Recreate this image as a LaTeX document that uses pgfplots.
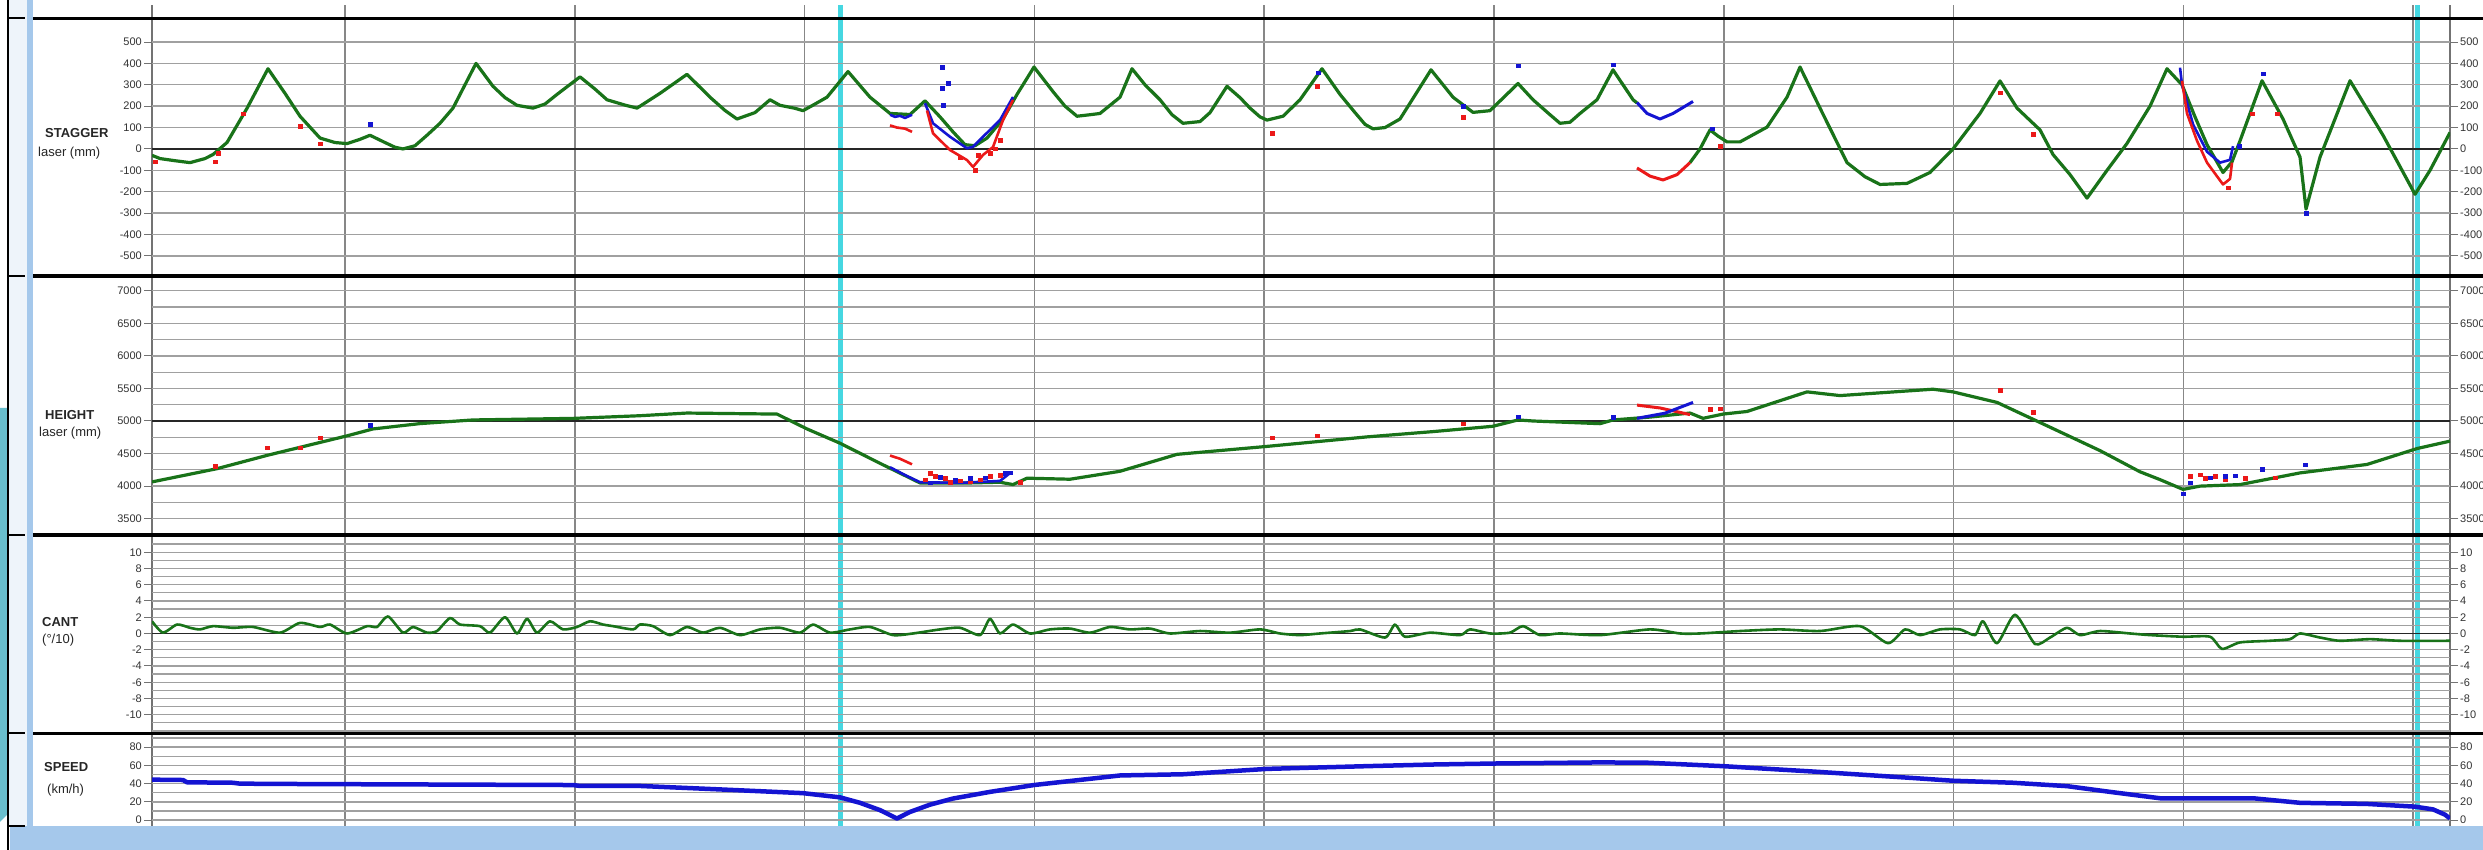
\documentclass[border=0pt]{standalone}
\usepackage{pgfplots}
\pgfplotsset{compat=1.18}
\usepackage{fontspec}
\setmainfont{Liberation Sans}
\definecolor{tgreen}{RGB}{25,115,25}
\definecolor{tblue}{RGB}{20,20,210}
\definecolor{tred}{RGB}{235,25,25}
\definecolor{tcyan}{RGB}{70,215,225}
\definecolor{gridg}{RGB}{160,160,160}
\definecolor{vgrid}{RGB}{135,135,135}
\definecolor{lblue}{RGB}{165,200,235}
\definecolor{teal1}{RGB}{105,190,205}
\definecolor{paleblue}{RGB}{238,244,250}

\pgfplotsset{
  panel/.style={
    scale only axis, width=2298pt, xmin=152, xmax=2450,
    axis line style={draw=none}, xtick=\empty,
    tick align=outside, major tick length=8pt, minor tick length=0pt,
    ytick style={draw=black!55, line width=1pt},
    yticklabel style={font=\fontsize{11}{12}\selectfont, text=black!80, inner sep=2pt},
    grid style={draw=gridg, line width=1.4pt},
    minor grid style={draw=gridg, line width=1.2pt},
    anchor=south west,
  },
  leftp/.style={panel, ytick pos=left, ymajorgrids, yminorgrids,
    extra y tick labels={}, extra y tick style={grid style={draw=black!85, line width=1.5pt}, major tick length=0pt}},
  rightp/.style={panel, ytick pos=right, yticklabel pos=right},
  gline/.style={draw=tgreen, line width=3.2pt, line join=round, mark=none},
  bline/.style={draw=tblue, line width=3pt, line join=round, mark=none},
  rline/.style={draw=tred, line width=3pt, line join=round, mark=none},
  rdot/.style={only marks, mark=square*, mark size=1.7pt, mark options={fill=tred, draw=tred}},
  bdot/.style={only marks, mark=square*, mark size=1.7pt, mark options={fill=tblue, draw=tblue}},
}

\begin{document}
\begin{tikzpicture}[x=1pt,y=1pt]
\useasboundingbox (0,0) rectangle (2483,850);
\clip (0,0) rectangle (2483,850);
\fill[white] (0,0) rectangle (2483,850);
% left decorations
\fill[paleblue] (8,24) rectangle (27,850);
\fill[lblue] (27,24) rectangle (33,850);
\fill[teal1] (0,442) -- (8,442) -- (8,36) -- (0,28) -- cycle;
\fill[lblue] (10,0) rectangle (2483,24);
\draw[black, line width=2pt] (8,0) -- (8,850);
\foreach \yy in {832,574,315,117,24} \draw[black, line width=2pt] (8,\yy) -- (25,\yy);
% vertical grid
\foreach \k in {0,...,9} \draw[vgrid, line width=1.5pt] ({345+229.8*\k},24) -- ({345+229.8*\k},845);
\draw[black!55, line width=2.5pt] (152,24) -- (152,845);
\draw[black!55, line width=2.5pt] (2450,24) -- (2450,845);
\draw[tcyan, line width=5pt] (840,24) -- (840,845);
\draw[tcyan, line width=5pt] (2417,24) -- (2417,845);

% ================= STAGGER =================
\begin{axis}[leftp, at={(152pt,574pt)}, height=257.5pt, ymin=-594, ymax=610,
  ytick={-500,-400,-300,-200,-100,0,100,200,300,400,500},
  yticklabels={-500,-400,-300,-200,-100,0,100,200,300,400,500},
  extra y ticks={0}]
\addplot[gline] coordinates {
(152,-30)(160,-45)(175,-55)(190,-64)(205,-45)(213,-26)(227,30)(247,190)(268,375)(285,260)(300,153)(320,51)(335,30)(347,25)(360,45)(370,64)(385,30)(395,8)(403,0)(415,15)(427,64)(440,120)(453,191)(476,400)(493,293)(505,240)(517,204)(533,191)(545,210)(557,255)(580,337)(595,280)(607,230)(625,205)(637,191)(660,260)(687,349)(710,242)(725,180)(737,140)(755,170)(770,230)(780,204)(795,190)(803,179)(815,210)(827,242)(848,362)(870,242)(890,166)(910,161)(925,225)(930,200)(940,150)(953,80)(965,20)(975,15)(987,51)(1003,140)(1017,255)(1034,383)(1053,268)(1065,200)(1077,153)(1090,160)(1100,166)(1120,242)(1132,375)(1145,300)(1160,230)(1172,160)(1183,120)(1200,128)(1210,170)(1227,293)(1240,240)(1250,191)(1260,150)(1267,135)(1283,153)(1300,230)(1322,375)(1340,255)(1355,170)(1365,115)(1373,94)(1385,100)(1400,140)(1431,370)(1453,242)(1473,171)(1490,179)(1518,306)(1533,230)(1550,160)(1560,120)(1570,125)(1580,166)(1597,230)(1613,370)(1633,230)(1637,215)};
\addplot[gline] coordinates {
(1690,-64)(1700,0)(1710,89)(1718,60)(1727,33)(1740,33)(1767,102)(1787,242)(1800,383)(1820,191)(1847,-64)(1865,-130)(1880,-166)(1907,-161)(1930,-110)(1953,0)(1980,166)(2000,318)(2017,191)(2040,89)(2053,-26)(2070,-120)(2087,-230)(2107,-100)(2127,26)(2150,200)(2167,375)(2182,300)(2195,150)(2207,20)(2223,-110)(2232,-60)(2240,38)(2262,319)(2283,140)(2300,-38)(2306,-281)(2320,-38)(2350,319)(2383,64)(2415,-212)(2430,-100)(2450,77)};
% blue / red traces
\addplot[bline, line width=2.6pt] coordinates {(890,160)(895,150)(900,155)(905,145)(912,160)};
\addplot[rline, line width=2.6pt] coordinates {(890,110)(897,100)(905,95)(912,80)};
\addplot[bline, line width=2.6pt] coordinates {(925,214)(933,120)(950,57)(967,3)(973,10)(983,57)(1000,135)(1013,243)};
\addplot[rline, line width=2.6pt] coordinates {(927,180)(933,73)(950,-5)(967,-52)(973,-84)(983,-28)(993,9)(1003,135)(1013,229)};
\addplot[rdot] coordinates {(975,-100)(978,-30)(990,-20)(995,0)(1000,40)(960,-40)};
\addplot[bdot] coordinates {(942,383)(942,284)(948,307)(943,205)};
\addplot[bline] coordinates {(1637,217)(1647,166)(1660,140)(1673,166)(1693,222)};
\addplot[rline] coordinates {(1637,-89)(1650,-127)(1663,-145)(1677,-120)(1690,-64)};
\addplot[bline, line width=2.6pt] coordinates {(2180,380)(2182,300)(2193,115)(2207,-13)(2220,-64)(2230,-51)(2233,13)};
\addplot[rline, line width=2.6pt] coordinates {(2182,319)(2187,166)(2197,38)(2207,-64)(2217,-128)(2223,-166)(2230,-140)(2232,-64)};
\addplot[rdot] coordinates {(155,-59)(215,-59)(218,-20)(300,107)(320,25)(243,166)(1272,73)(1317,293)(1463,148)(1720,13)(2000,263)(2033,69)(2252,166)(2277,166)(2228,-180)};
\addplot[bdot] coordinates {(370,115)(1318,357)(1463,199)(1518,388)(1613,395)(1712,94)(2263,352)(2239,13)(2306,-300)};
\end{axis}
\begin{axis}[rightp, at={(152pt,574pt)}, height=257.5pt, ymin=-594, ymax=610,
  ytick={-500,-400,-300,-200,-100,0,100,200,300,400,500},
  yticklabels={-500,-400,-300,-200,-100,0,100,200,300,400,500}]
\end{axis}

% ================= HEIGHT =================
\begin{axis}[leftp, at={(152pt,315pt)}, height=259pt, ymin=3250, ymax=7226,
  ytick={3500,4000,4500,5000,5500,6000,6500,7000},
  yticklabels={3500,4000,4500,5000,5500,6000,6500,7000},
  minor ytick={3750,4250,4750,5250,5750,6250,6750},
  extra y ticks={5000}]
\addplot[gline] coordinates {
(152,4065)(217,4268)(267,4472)(347,4772)(373,4878)(420,4960)(473,5016)(573,5040)(640,5081)(687,5122)(777,5106)(807,4878)(840,4659)(880,4350)(920,4049)(970,4049)(1000,4060)(1013,4024)(1027,4122)(1070,4106)(1120,4228)(1177,4488)(1267,4610)(1367,4756)(1433,4837)(1493,4919)(1518,5016)(1533,5000)(1600,4959)(1613,5016)(1650,5060)(1690,5122)(1703,5041)(1723,5106)(1747,5146)(1807,5447)(1840,5390)(1933,5488)(1953,5447)(1997,5285)(2033,5027)(2080,4689)(2100,4545)(2140,4220)(2160,4100)(2183,3950)(2200,4000)(2240,4024)(2300,4203)(2367,4333)(2417,4577)(2450,4691)};
\addplot[rline, line width=2.6pt] coordinates {(890,4470)(900,4420)(912,4335)};
\addplot[bline, line width=2.6pt] coordinates {(890,4290)(905,4170)(920,4060)(960,4050)(1000,4080)(1010,4200)};
\addplot[rdot] coordinates {(930,4200)(935,4150)(945,4120)(960,4080)(980,4100)(990,4150)(1000,4170)(925,4100)(950,4060)(970,4070)(1020,4060)};
\addplot[bdot] coordinates {(940,4140)(955,4100)(970,4120)(985,4130)(1005,4200)(1010,4210)(930,4050)};
\addplot[rline] coordinates {(1637,5244)(1660,5200)(1690,5098)};
\addplot[bline] coordinates {(1637,5041)(1665,5120)(1693,5285)};
\addplot[rdot] coordinates {(1710,5180)(1720,5190)(215,4309)(267,4593)(300,4593)(320,4740)(1272,4740)(1317,4772)(1463,4959)(2000,5472)(2033,5138)(2190,4150)(2200,4180)(2205,4120)(2215,4150)(2225,4100)(2245,4120)(2275,4130)};
\addplot[bdot] coordinates {(1613,5060)(370,4935)(1518,5065)(2183,3880)(2190,4050)(2210,4130)(2225,4150)(2235,4160)(2262,4260)(2305,4330)};
\end{axis}
\begin{axis}[rightp, at={(152pt,315pt)}, height=259pt, ymin=3250, ymax=7226,
  ytick={3500,4000,4500,5000,5500,6000,6500,7000},
  yticklabels={3500,4000,4500,5000,5500,6000,6500,7000}]
\end{axis}

% ================= CANT =================
\begin{axis}[leftp, at={(152pt,116.5pt)}, height=198.5pt, ymin=-12.31, ymax=12.12,
  ytick={-10,-8,-6,-4,-2,0,2,4,6,8,10},
  yticklabels={-10,-8,-6,-4,-2,0,2,4,6,8,10},
  minor ytick={-12,-11,-9,-7,-5,-3,-1,1,3,5,7,9,11,12},
  extra y ticks={0}]
\addplot[gline, line width=2.6pt, smooth, tension=0.4] coordinates {
(152,1.5)(163,0.1)(177,1.1)(190,0.7)(200,0.5)(213,0.9)(233,0.7)(253,0.8)(280,0.1)(300,1.3)(320,0.8)(330,1.1)(347,0)(367,0.9)(377,0.8)(388,2.1)(403,0.1)(413,0.8)(427,0.1)(437,0.3)(450,1.9)(460,1.1)(480,0.9)(490,0.1)(505,2.0)(517,0)(527,1.8)(537,0.1)(550,1.5)(563,0.5)(577,0.8)(590,1.5)(603,1.1)(613,0.9)(633,0.5)(640,1.1)(653,0.9)(670,-0.2)(687,0.8)(703,0.1)(720,0.7)(740,-0.2)(760,0.5)(780,0.7)(800,0.1)(813,1.1)(830,0.1)(850,0.5)(870,0.8)(893,-0.2)(913,0)(940,0.5)(960,0.7)(980,-0.2)(990,1.8)(1000,0)(1013,1.1)(1030,0)(1050,0.5)(1070,0.6)(1090,0.1)(1110,0.8)(1130,0.5)(1150,0.6)(1170,0)(1200,0.3)(1230,0.1)(1260,0.5)(1280,0)(1300,-0.2)(1320,0)(1350,0.3)(1360,0.5)(1385,-0.5)(1395,1.1)(1405,-0.4)(1430,0.1)(1460,-0.2)(1470,0.5)(1490,0)(1510,0.1)(1523,0.9)(1540,-0.2)(1560,0)(1600,-0.2)(1650,0.5)(1680,0)(1700,0)(1740,0.3)(1780,0.5)(1820,0.3)(1860,0.9)(1888,-1.2)(1905,0.5)(1920,-0.2)(1940,0.5)(1960,0.5)(1975,-0.2)(1983,1.5)(1997,-1.2)(2015,2.3)(2035,-1.3)(2050,-0.5)(2067,0.7)(2080,-0.2)(2100,0.3)(2130,0)(2150,-0.2)(2183,-0.4)(2210,-0.4)(2222,-1.9)(2240,-1.1)(2270,-0.9)(2290,-0.7)(2300,0)(2320,-0.5)(2340,-0.9)(2370,-0.7)(2400,-0.9)(2450,-0.9)};
\end{axis}
\begin{axis}[rightp, at={(152pt,116.5pt)}, height=198.5pt, ymin=-12.31, ymax=12.12,
  ytick={-10,-8,-6,-4,-2,0,2,4,6,8,10},
  yticklabels={-10,-8,-6,-4,-2,0,2,4,6,8,10}]
\end{axis}

% ================= SPEED =================
\begin{axis}[leftp, at={(152pt,24pt)}, height=92.5pt, ymin=-6.4, ymax=95,
  ytick={0,20,40,60,80}, yticklabels={0,20,40,60,80},
  minor ytick={10,30,50,70,90}]
\addplot[bline, line width=4.5pt] coordinates {
(152,44.4)(183,44)(187,41.5)(233,41)(240,40)(303,39.6)(573,38.5)(580,37.5)(640,37.5)(720,33.7)(803,29.6)(840,25)(860,19)(880,11)(897,1.8)(910,9)(930,17)(953,23.7)(990,31)(1034,38.5)(1120,49)(1183,50.3)(1267,56.2)(1367,59.2)(1433,61)(1495,62.1)(1600,63.3)(1647,63)(1723,59.2)(1813,53.3)(1913,46.2)(1953,43.2)(2013,41)(2067,37.3)(2110,31)(2160,24)(2253,24)(2300,19)(2367,17.8)(2415,14.8)(2433,11.8)(2445,6)(2450,1.8)};
\end{axis}
\begin{axis}[rightp, at={(152pt,24pt)}, height=92.5pt, ymin=-6.4, ymax=95,
  ytick={0,20,40,60,80}, yticklabels={0,20,40,60,80}]
\end{axis}

% separators
\foreach \yy in {831.5,574,315,116.5} \draw[black, line width=3.5pt] (33,\yy) -- (2483,\yy);

% panel labels
\begin{scope}[every node/.style={anchor=west, inner sep=0pt, text=black!85}]
\node[font=\fontsize{13}{15}\selectfont\bfseries] at (45,717) {STAGGER};
\node[font=\fontsize{13}{15}\selectfont] at (38,697) {laser (mm)};
\node[font=\fontsize{13}{15}\selectfont\bfseries] at (45,435) {HEIGHT};
\node[font=\fontsize{13}{15}\selectfont] at (39,417) {laser (mm)};
\node[font=\fontsize{13}{15}\selectfont\bfseries] at (42,228) {CANT};
\node[font=\fontsize{13}{15}\selectfont] at (42,210) {(°/10)};
\node[font=\fontsize{13}{15}\selectfont\bfseries] at (44,83) {SPEED};
\node[font=\fontsize{13}{15}\selectfont] at (47,60) {(km/h)};
\end{scope}
\end{tikzpicture}
\end{document}
